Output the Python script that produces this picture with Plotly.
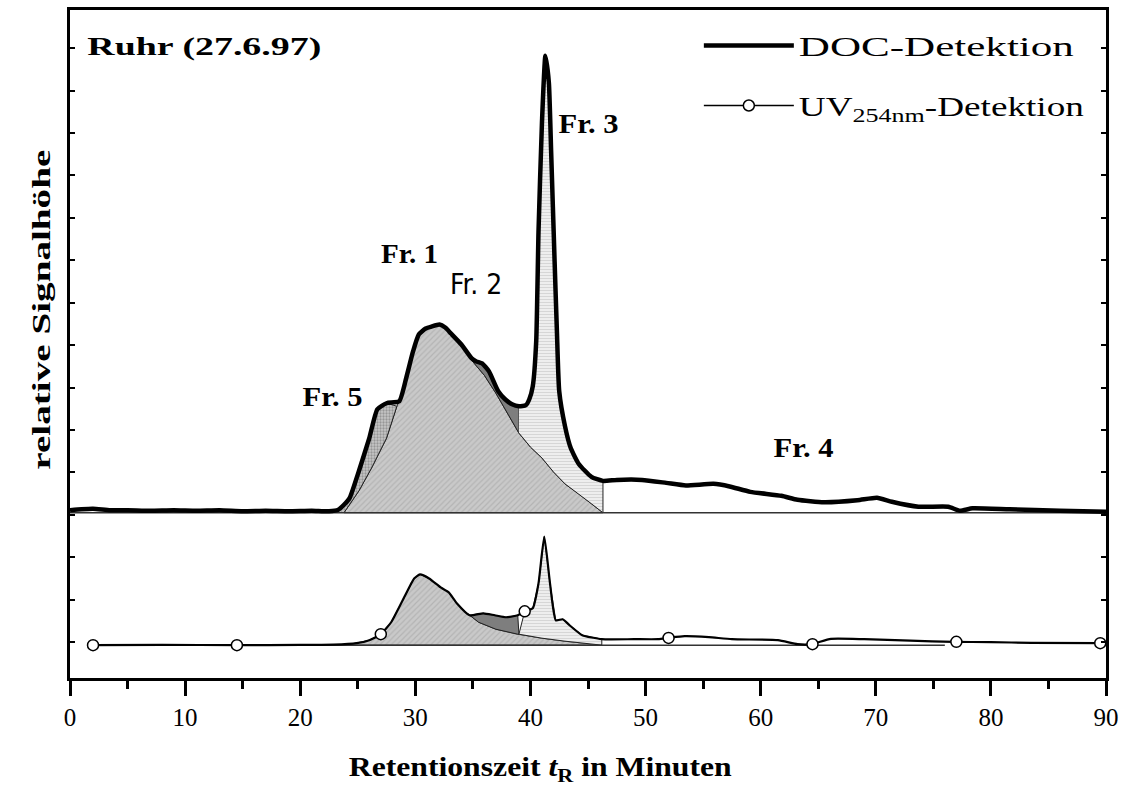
import numpy as np
import plotly.graph_objects as go

# ---------------- data ----------------
# DOC detection: retention time (min) and relative signal height
DOC_T = [0, 1, 2, 3.5, 5, 7, 9, 11, 13, 15, 17, 19, 21, 22.5, 23.3, 23.8, 24.3, 25.1,
         26.0, 26.7, 27.5, 28.6, 29.2, 29.8, 30.3, 30.9, 31.4, 32.1, 32.6, 33.1, 34.0,
         34.9, 35.3, 35.8, 36.4, 37.2, 37.8, 38.4, 39.0, 39.6, 39.9, 40.2, 40.5, 40.7,
         41.0, 41.3, 41.6, 41.8, 42.1, 42.3, 42.5, 43.0, 43.5, 44.2, 45.3, 46.3, 47.5,
         49.7, 51.8, 53.5, 55.9, 57.3, 59.1, 61.8, 63.2, 65.5, 68.4, 70.1, 71.4, 73.7,
         76.3, 77.3, 78.4, 81.6, 86.0, 90]
DOC_V = [2.5, 3.5, 4, 2.5, 2.5, 2, 2.5, 2, 2.5, 1.5, 2, 1.5, 2, 1.5, 3, 8, 15, 42,
         75, 104, 110, 112, 135, 162, 179, 185, 187, 189, 186, 180, 169,
         155, 152, 150, 142, 122, 114, 109, 107, 108, 114, 127, 172, 282,
         392, 459, 432, 362, 252, 182, 122, 87, 65, 49, 36, 32, 33,
         33, 30, 27.4, 29, 26.4, 21, 17, 13, 10.5, 12.5, 15, 11, 6,
         6, 2, 4.4, 3.4, 2, 1]

# fraction borders under the DOC curve
DOC_FR1_LEFT_T = [23.8, 25.1, 26.2, 27.5, 28.4]          # Fr.5 / Fr.1
DOC_FR1_LEFT_V = [0, 22, 45, 75, 107]
DOC_SPLIT_T = [34.9, 36.0, 37.0, 38.0, 39.0, 40.0, 41.0, 42.0, 43.0, 44.2, 45.3, 46.3]
DOC_SPLIT_V = [153, 138, 120, 100, 80, 66, 55, 41, 29, 19, 9, 0]
DOC_CUTS = [23.3, 28.4, 34.9, 39.0, 46.3]                 # fraction limits (min)
DOC_BASE_T = [0, 90]

# UV(254 nm) detection
UV_T = [2, 8, 14.5, 20, 22.9, 24.9, 26.0, 27.0, 27.9, 28.9, 29.9, 30.4, 31.2, 32.2,
        32.9, 33.6, 34.7, 35.9, 36.9, 37.9, 38.9, 39.5, 40.2, 40.7, 41.2, 41.7, 42.2,
        42.8, 43.4, 44.5, 46.2, 49, 51.1, 52.0, 53.4, 55.5, 57.5, 61.5, 63.2, 64.4,
        66.1, 69, 73, 76.8, 80, 83.5, 89.5]
UV_V = [0, 0.3, 0, 0.3, 0.5, 2, 5, 11, 23, 45, 67, 71, 67, 58,
        53, 42, 30, 32, 30, 28, 30, 34, 37, 62, 109, 62, 25,
        26, 20, 10, 6, 6, 6, 7.3, 9, 8, 6, 5, 1, 1,
        6.3, 6, 4.5, 3.3, 3, 2.3, 2]
UV_MARK_T = [2, 14.5, 27, 39.5, 52, 64.5, 77, 89.5]
UV_MARK_V = [0, 0, 11, 34, 7.3, 1, 3.3, 2]
UV_SPLIT_T = [34.4, 35.5, 37.0, 38.9, 41.0, 43.0, 46.2]
UV_SPLIT_V = [33, 23, 16, 11, 7, 4, 0]
UV_CUTS = [24.0, 34.4, 39.0, 46.2]
UV_BASE_T = [2, 76]

SERIF = "Liberation Serif, Times New Roman, serif"
NARROW = "Liberation Sans Narrow, DejaVu Sans Condensed, Arial Narrow, sans-serif"

dt, dv = np.array(DOC_T), np.array(DOC_V)
ut, uv = np.array(UV_T), np.array(UV_V)


def seg(t, v, a, b, inclusive=True):
    m = (t >= a) & (t <= b) if inclusive else (t > a) & (t < b)
    return list(t[m]), list(v[m])


fig = go.Figure()

OUT = dict(color="#222222", width=1)


def poly(x, y, fillcolor, pattern, yaxis="y"):
    fig.add_trace(go.Scatter(x=x, y=y, mode="lines", fill="toself", fillcolor=fillcolor,
                             fillpattern=pattern, line=OUT, showlegend=False,
                             hoverinfo="skip", yaxis=yaxis))


P_FR1 = dict(shape="/", bgcolor="#c9c9c9", fgcolor="#a0a0a0", size=4, solidity=0.3)
P_FR5 = dict(shape=".", bgcolor="#c6c6c6", fgcolor="#666666", size=3, solidity=0.45)
P_FR3 = dict(shape="-", bgcolor="#eeeeee", fgcolor="#b8b8b8", size=3, solidity=0.3)

# ---- DOC fractions ----
sl, sv = DOC_SPLIT_T, DOC_SPLIT_V
# Fr.1
mx, my = seg(dt, dv, DOC_CUTS[1], DOC_CUTS[2], inclusive=False)
x = DOC_FR1_LEFT_T + mx + sl + [DOC_FR1_LEFT_T[0]]
y = DOC_FR1_LEFT_V + my + sv + [0]
poly(x, y, "#c9c9c9", P_FR1)
# Fr.5
mx, my = seg(dt, dv, DOC_CUTS[0], DOC_CUTS[1])
x = [DOC_CUTS[0]] + mx + DOC_FR1_LEFT_T[::-1]
y = [0] + my + DOC_FR1_LEFT_V[::-1]
poly(x, y, "#b0b0b0", P_FR5)
# Fr.2
mx, my = seg(dt, dv, DOC_CUTS[2], DOC_CUTS[3])
k = sl.index(DOC_CUTS[3])
x = mx + sl[:k + 1][::-1]
y = my + sv[:k + 1][::-1]
poly(x, y, "#7e7e7e", None)
# Fr.3
mx, my = seg(dt, dv, DOC_CUTS[3], DOC_CUTS[4])
x = mx + sl[k:][::-1]
y = my + sv[k:][::-1]
poly(x, y, "#eeeeee", P_FR3)

# ---- UV fractions ----
ul, uvv = UV_SPLIT_T, UV_SPLIT_V
mx, my = seg(ut, uv, UV_CUTS[0], UV_CUTS[1], inclusive=False)
x = [UV_CUTS[0]] + mx + ul + [UV_CUTS[0]]
y = [0] + my + uvv + [0]
poly(x, y, "#c9c9c9", P_FR1, "y2")
mx, my = seg(ut, uv, UV_CUTS[1], UV_CUTS[2])
k2 = ul.index(38.9)
x = mx + [UV_CUTS[2]] + ul[:k2 + 1][::-1]
y = my + [11] + uvv[:k2 + 1][::-1]
poly(x, y, "#7e7e7e", None, "y2")
mx, my = seg(ut, uv, UV_CUTS[2], UV_CUTS[3])
x = [UV_CUTS[2]] + mx + ul[k2 + 1:][::-1] + [UV_CUTS[2]]
y = [11] + my + uvv[k2 + 1:][::-1] + [11]
poly(x, y, "#eeeeee", P_FR3, "y2")

# baselines
fig.add_trace(go.Scatter(x=DOC_BASE_T, y=[0, 0], mode="lines",
                         line=dict(color="#333333", width=1.5), showlegend=False,
                         hoverinfo="skip"))
fig.add_trace(go.Scatter(x=UV_BASE_T, y=[0, 0], mode="lines", yaxis="y2",
                         line=dict(color="#333333", width=1.5), showlegend=False,
                         hoverinfo="skip"))

# curves
fig.add_trace(go.Scatter(x=DOC_T, y=DOC_V, mode="lines", name="DOC-Detektion",
                         line=dict(color="black", width=4.5, shape="spline", smoothing=0.5),
                         legendgroup="a"))
fig.add_trace(go.Scatter(x=UV_T, y=UV_V, mode="lines", yaxis="y2", showlegend=False,
                         line=dict(color="black", width=2.2, shape="spline", smoothing=0.5)))
fig.add_trace(go.Scatter(x=UV_MARK_T, y=UV_MARK_V, mode="markers", yaxis="y2",
                         showlegend=False,
                         marker=dict(symbol="circle", size=11, color="white",
                                     line=dict(color="black", width=1.5))))
# legend proxy for the UV trace (no data points)
fig.add_trace(go.Scatter(x=[None], y=[None], mode="lines+markers",
                         name="UV<sub>254nm</sub>-Detektion", legendgroup="b",
                         line=dict(color="black", width=1.5),
                         marker=dict(symbol="circle", size=11, color="white",
                                     line=dict(color="black", width=1.5))))

ann = []
ann.append(dict(text="<b>Ruhr (27.6.97)</b>", xref="paper", yref="paper", x=0.130, y=0.945,
                xanchor="center", yanchor="middle", showarrow=False,
                font=dict(family=SERIF, size=26, color="black")))
for txt, tx, ty in [("Fr. 1", 29.45, 260), ("Fr. 5", 22.8, 116), ("Fr. 3", 45.0, 390),
                    ("Fr. 4", 63.7, 65)]:
    ann.append(dict(text="<b>%s</b>" % txt, x=tx, y=ty, xref="x", yref="y", showarrow=False,
                    xanchor="center", yanchor="middle",
                    font=dict(family=SERIF, size=27, color="black")))
ann.append(dict(text="Fr. 2", x=35.3, y=229, xref="x", yref="y", showarrow=False,
                xanchor="center", yanchor="middle",
                font=dict(family=NARROW, size=28, color="black")))
ann.append(dict(text="<b>Retentionszeit <i>t</i><sub>R</sub> in Minuten</b>", xref="paper",
                yref="paper", x=0.454, y=-0.136, xanchor="center", yanchor="middle",
                showarrow=False, font=dict(family=SERIF, size=28, color="black")))
ann.append(dict(text="<b>relative Signalhöhe</b>", xref="paper", yref="paper", x=-0.027,
                y=0.551, textangle=-90, xanchor="center", yanchor="middle", showarrow=False,
                font=dict(family=SERIF, size=26, color="black")))

fig.update_layout(
    width=1126, height=798,
    margin=dict(l=70, r=17, t=7, b=120),
    paper_bgcolor="white", plot_bgcolor="white",
    font=dict(family=SERIF, color="black"),
    annotations=ann,
    showlegend=True,
    legend=dict(x=0.607, y=0.983, xanchor="left", yanchor="top",
                font=dict(family=SERIF, size=27, color="black"),
                bgcolor="rgba(0,0,0,0)", traceorder="grouped", tracegroupgap=22,
                itemwidth=90),
    xaxis=dict(range=[0, 90], showline=True, linewidth=2.5, linecolor="black", mirror=True,
               ticks="outside", ticklen=15, tickwidth=2.5, tickcolor="black", dtick=10, tick0=0,
               minor=dict(dtick=5, ticks="outside", ticklen=8, tickwidth=2.5, tickcolor="black"),
               tickfont=dict(family=SERIF, size=25, color="black"),
               showgrid=False, zeroline=False),
    xaxis2=dict(range=[0, 90], overlaying="x", side="top", ticks="inside", ticklen=4,
                tickwidth=1.5, tickcolor="black", dtick=5, tick0=0, showticklabels=False,
                showline=False, showgrid=False, zeroline=False),
    yaxis=dict(range=[-166, 505], showline=True, linewidth=2.5, linecolor="black",
               mirror="ticks", ticks="inside", ticklen=5, tickwidth=1.5, tickcolor="black",
               tick0=-2, dtick=42.6, showticklabels=False, showgrid=False, zeroline=False),
    yaxis2=dict(range=[-33, 638], overlaying="y", visible=False),
)

# remove the page margin and widen the lettering like the reference typeface
POST = r"""
document.body.style.margin = '0';
var W = {'Ruhr (27.6.97)': 234, 'DOC-Detektion': 275, 'UV254nm-Detektion': 285,
         'relative Signalhöhe': 320, 'Retentionszeit tR in Minuten': 383,
         'Fr. 1': 57, 'Fr. 3': 60, 'Fr. 4': 60, 'Fr. 5': 60};
document.querySelectorAll('svg text').forEach(function (t) {
  var k = t.textContent.replace(/\u200b/g, '').trim();
  if (W[k]) {
    t.setAttribute('textLength', W[k]);
    t.setAttribute('lengthAdjust', 'spacingAndGlyphs');
  }
});
document.querySelectorAll('g.legend [clip-path]').forEach(function (e) {
  e.removeAttribute('clip-path');
});
"""

fig.write_html("out.html", post_script=POST, config={"displayModeBar": False})
